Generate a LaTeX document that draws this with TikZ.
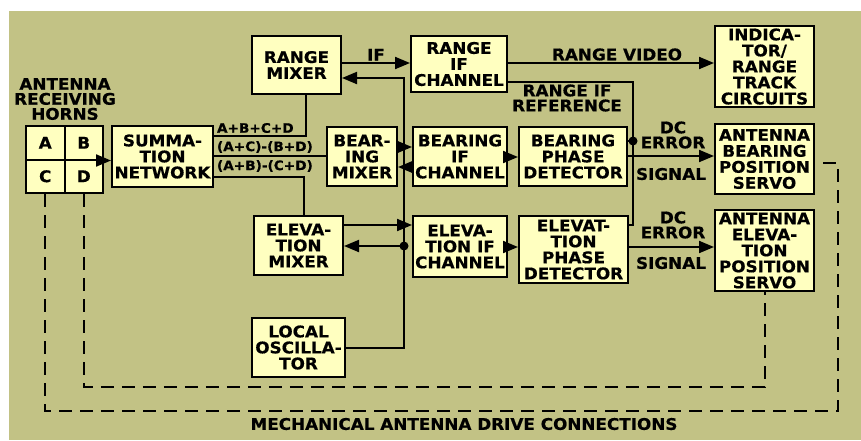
\documentclass[tikz,border=0pt]{standalone}
\usepackage{fontspec}
\usepackage{xcolor}
\usepackage{tikz}
\usetikzlibrary{arrows.meta}
\newfontfamily\blockfont{DejaVu Sans}[FakeStretch=1.05, FakeBold=0.6]
\definecolor{olivebg}{HTML}{C2C285}
\definecolor{boxfill}{HTML}{FFFFC0}

\begin{document}
\begin{tikzpicture}[x=1pt, y=-1pt, line width=2pt,
    blk/.style={draw, fill=boxfill, inner sep=0pt, align=center,
        font=\blockfont\bfseries\fontsize{16}{16}\selectfont},
    lbl/.style={inner sep=1.5pt, align=center,
        font=\blockfont\bfseries\fontsize{16}{15}\selectfont},
    sumlbl/.style={inner sep=0pt, anchor=west,
        font=\blockfont\bfseries\fontsize{13}{13}\selectfont},
    arr/.style={-{Triangle[length=15pt, width=12pt]}},
    drive/.style={dash pattern=on 13pt off 8pt}]
    % Background
    \useasboundingbox (0,0) rectangle (861,440);
    \fill[white] (0,0) rectangle (861,440);
    \fill[olivebg] (9,11) rectangle (861,440);

    % Antenna horns
    \node[lbl] (hornlbl) at (65,99) {ANTENNA\\RECEIVING\\HORNS};
    \node[blk, minimum width=38.5pt, minimum height=33.5pt] (hA) at (45.25,142.75) {A};
    \node[blk, minimum width=38.5pt, minimum height=33.5pt] (hB) at (83.75,142.75) {B};
    \node[blk, minimum width=38.5pt, minimum height=33.5pt] (hC) at (45.25,176.25) {C};
    \node[blk, minimum width=38.5pt, minimum height=33.5pt] (hD) at (83.75,176.25) {D};

    % Summation network
    \node[blk, minimum width=101pt, minimum height=61pt] (sum) at (162.5,156.5) {SUMMA-\\TION\\NETWORK};

    % Mixers
    \node[blk, minimum width=89pt, minimum height=58pt] (rmix) at (296.5,65) {RANGE\\MIXER};
    \node[blk, minimum width=70pt, minimum height=59pt] (bmix) at (362,156.5) {BEAR-\\ING\\MIXER};
    \node[blk, minimum width=89pt, minimum height=59pt] (emix) at (298.5,245.5) {ELEVA-\\TION\\MIXER};
    \node[blk, minimum width=93pt, minimum height=59pt] (lo) at (298.5,347.5) {LOCAL\\OSCILLA-\\TOR};

    % IF channels
    \node[blk, minimum width=96pt, minimum height=56pt] (rif) at (459,64) {RANGE\\IF\\CHANNEL};
    \node[blk, minimum width=94pt, minimum height=59pt] (bif) at (460,156.5) {BEARING\\IF\\CHANNEL};
    \node[blk, minimum width=94pt, minimum height=61pt] (eif) at (460,246.5) {ELEVA-\\TION IF\\CHANNEL};

    % Phase detectors
    \node[blk, minimum width=108pt, minimum height=59pt] (bpd) at (573,156.5) {BEARING\\PHASE\\DETECTOR};
    \node[blk, minimum width=109pt, minimum height=67pt] (epd) at (573.5,249.5) {ELEVAT-\\TION\\PHASE\\DETECTOR};

    % Outputs
    \node[blk, minimum width=99pt, minimum height=81pt] (ind) at (764.5,66.5) {INDICA-\\TOR/\\RANGE\\TRACK\\CIRCUITS};
    \node[blk, minimum width=99pt, minimum height=70pt] (bsrv) at (764.5,159) {ANTENNA\\BEARING\\POSITION\\SERVO};
    \node[blk, minimum width=99pt, minimum height=81pt] (esrv) at (764.5,250.5) {ANTENNA\\ELEVA-\\TION\\POSITION\\SERVO};

    % Horns to summation
    \draw[arr] (hB.south east) -- (sum.west |- hB.south east);

    % Summation outputs
    \draw (sum.east |- 0,136) -| ([xshift=9.5pt]rmix.south);
    \draw (sum.east |- 0,156) -- (bmix.west |- 0,156);
    \draw (sum.east |- 0,177) -| ([xshift=5.5pt]emix.north);
    \node[sumlbl] (sumA) at (216,128) {A+B+C+D};
    \node[sumlbl] (sumB) at (216,147) {(A+C)-(B+D)};
    \node[sumlbl] (sumC) at (216,166) {(A+B)-(C+D)};

    % Mixers to IF channels
    \draw[arr] (rmix.east |- 0,63) -- (rif.west |- 0,63) node[lbl, midway, above] {IF};
    \draw[arr] (bmix.east |- 0,147) -- (bif.west |- 0,147);
    \draw[arr] (emix.east |- 0,225) -- (eif.west |- 0,225);

    % Local oscillator
    \coordinate (lotop) at (404,78);
    \coordinate (lobear) at (404,167);
    \coordinate (loelev) at (404,246);
    \draw[arr] (lo.east) -| (lotop) -- (rmix.east |- lotop);
    \draw[arr] (lobear) -- (bmix.east |- lobear);
    \fill (loelev) circle (4.5);
    \draw[arr] (loelev) -- (emix.east |- loelev);

    % IF channels to detectors
    \draw[arr] (rif.east |- 0,63) -- (ind.west |- 0,63) node[lbl, midway, above, xshift=6pt] {RANGE VIDEO};
    \draw[arr] (bif.east |- 0,157) -- (bpd.west |- 0,157);
    \draw[arr] (eif.east |- 0,247) -- (epd.west |- 0,247);

    % Range IF reference
    \coordinate (refdot) at (633,141);
    \draw (rif.east |- 0,82) -| (633,225) -- (epd.east |- 0,225);
    \draw (bpd.east |- refdot) -- (refdot);
    \fill (refdot) circle (4.5);
    \node[lbl] (reflbl) at (567,98) {RANGE IF\\REFERENCE};

    % Error signals
    \draw[arr] (bpd.east |- 0,156) -- (bsrv.west |- 0,156);
    \node[lbl] (berr) at (673,135) {DC\\ERROR};
    \node[lbl] (bsig) at (671,174) {SIGNAL};
    \draw[arr] (epd.east |- 0,247) -- (esrv.west |- 0,247);
    \node[lbl] (eerr) at (673,225) {DC\\ERROR};
    \node[lbl] (esig) at (671,263) {SIGNAL};

    % Mechanical drive
    \draw[drive] (hC.south) |- (838,411) |- ([yshift=-4pt]bsrv.east);
    \draw[drive] (hD.south) |- (esrv.south |- 0,387) -- (esrv.south);
    \node[lbl] (drivelbl) at (464,424) {MECHANICAL ANTENNA DRIVE CONNECTIONS};
\end{tikzpicture}
\end{document}
